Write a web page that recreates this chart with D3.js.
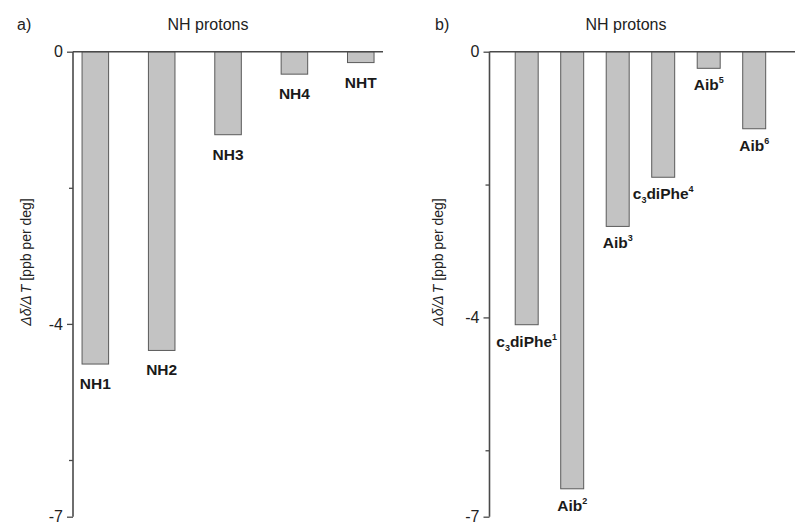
<!DOCTYPE html>
<html><head><meta charset="utf-8">
<script src="https://cdn.jsdelivr.net/npm/d3@7"></script>
<style>body{margin:0;background:#fff}svg{display:block;font-family:"Liberation Sans",Arial,sans-serif}</style>
</head><body>
<svg id="c" width="795" height="522"></svg>
<script>
// ---- data ----
const categoriesA = ["NH1","NH2","NH3","NH4","NHT"];
const valuesA = [-4.59,-4.39,-1.22,-0.33,-0.16];
const categoriesB = ["c3diPhe1","Aib2","Aib3","c3diPhe4","Aib5","Aib6"];
const valuesB = [-4.11,-6.58,-2.63,-1.89,-0.25,-1.16];
const majorTicks = [0,-4,-7];
const minorTicks = [-2,-6];
const panelTitle = "NH protons";

const svg = d3.select("#c");
const axisCol = "#4a4a4a", barFill = "#c3c3c3", barStroke = "#5a5a5a";

function labelParts(name){
  let m = name.match(/^c3diPhe(\d)$/);
  if(m) return [["c",""],["3","sub"],["diPhe",""],[m[1],"sup"]];
  m = name.match(/^Aib(\d)$/);
  if(m) return [["Aib",""],[m[1],"sup"]];
  return [[name,""]];
}

function panel(o){
  const g = svg.append("g");
  const x = d3.scaleBand().domain(o.cats).range(o.xr).paddingInner(o.pi).paddingOuter(o.po);
  const y = d3.scaleLinear().domain(o.yd).range(o.yr);

  // panel letter and title
  g.append("text").attr("x",o.letterX).attr("y",30).attr("font-size",16).attr("fill","#222").text(o.letter);
  g.append("text").attr("x",o.titleX).attr("y",30).attr("font-size",16).attr("fill","#222")
    .attr("text-anchor","middle").text(panelTitle);

  // bars
  g.selectAll("rect").data(o.vals).join("rect")
    .attr("x",(d,i)=>x(o.cats[i])).attr("width",x.bandwidth())
    .attr("y",y(0)).attr("height",d=>y(d)-y(0))
    .attr("fill",barFill).attr("stroke",barStroke).attr("stroke-width",1);

  // y axis (major)
  const ax = g.append("g").attr("transform",`translate(${o.axX},0)`)
    .call(d3.axisLeft(y).tickValues(majorTicks).tickSize(6).tickPadding(4).tickFormat(d=>String(d)));
  ax.select(".domain").remove();
  ax.selectAll("line").attr("stroke",axisCol).attr("stroke-width",1.3);
  ax.selectAll("text").attr("font-size",16).attr("fill","#222").attr("font-family","Liberation Sans, Arial, sans-serif");
  const ax2 = g.append("g").attr("transform",`translate(${o.axX},0)`)
    .call(d3.axisLeft(y).tickValues(minorTicks).tickSize(4).tickFormat(""));
  ax2.select(".domain").remove();
  ax2.selectAll("line").attr("stroke",axisCol).attr("stroke-width",1.3);
  // axis lines
  g.append("line").attr("x1",o.axX).attr("x2",o.axX).attr("y1",y(0)).attr("y2",y(-7))
    .attr("stroke",axisCol).attr("stroke-width",1.6);
  g.append("line").attr("x1",o.axX).attr("x2",o.xEnd).attr("y1",y(0)).attr("y2",y(0))
    .attr("stroke",axisCol).attr("stroke-width",1.6);

  // y label
  const yl = g.append("text").attr("transform",`translate(${o.ylX},${o.ylY}) rotate(-90)`)
    .attr("text-anchor","middle").attr("font-size",14).attr("fill","#222");
  yl.append("tspan").attr("font-style","italic").text("Δδ/Δ");
  yl.append("tspan").attr("font-style","italic").attr("dx",2).text("T");
  yl.append("tspan").text(" [ppb per deg]");

  // bar labels
  o.cats.forEach((c,i)=>{
    const t = g.append("text").attr("x",x(c)+x.bandwidth()/2).attr("y",y(o.vals[i])+o.lblOff)
      .attr("text-anchor","middle").attr("font-size",15.5).attr("font-weight","bold").attr("fill","#1a1a1a");
    const parts = labelParts(c);
    parts.forEach(([s,k],j)=>{
      const ts = t.append("tspan").text(s);
      if(k==="sup") ts.attr("font-size",9).attr("dy",-7);
      if(k==="sub") ts.attr("font-size",9).attr("dy",4);
      if(k==="" && j>0){
        const pk = parts[j-1][1];
        if(pk==="sub") ts.attr("dy",-4);
        if(pk==="sup") ts.attr("dy",7);
      }
    });
  });
}

panel({cats:categoriesA, vals:valuesA, xr:[62.15,393.95], pi:0.6, po:0.3,
  yd:[0,-6,-7], yr:[51.7,460,516.7], axX:73, xEnd:383, letter:"a)", letterX:17, titleX:208,
  ylX:31, ylY:262, lblOff:25});
panel({cats:categoriesB, vals:valuesB, xr:[503.95,776.95], pi:0.495, po:0.2475,
  yd:[0,-7], yr:[51.7,516.7], axX:489.5, xEnd:795, letter:"b)", letterX:435, titleX:626,
  ylX:443, ylY:262, lblOff:22});
</script>
</body></html>
